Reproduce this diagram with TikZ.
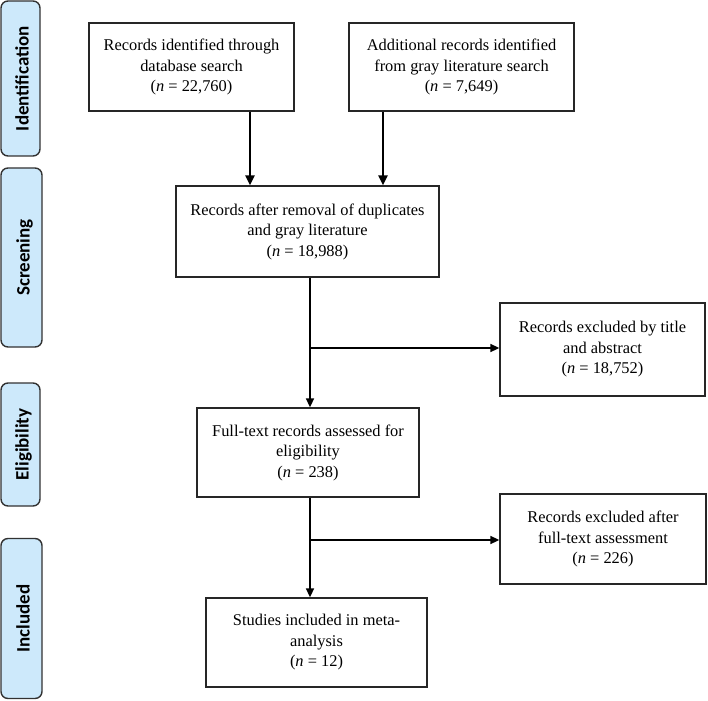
\documentclass[tikz,border=0pt]{standalone}
\usepackage{fontspec}
\setmainfont{Liberation Serif}
\newfontfamily\labfont{Carlito}
\usetikzlibrary{arrows.meta}
\definecolor{stagefill}{RGB}{205,233,251}
\definecolor{stageline}{RGB}{50,50,50}
\tikzset{
  box/.style={draw=black!85, line width=1.3pt, fill=white, align=center, inner sep=2pt,
    font=\fontsize{16.4}{20.5}\selectfont},
  stage/.style={draw=stageline, line width=1.4pt, fill=stagefill, rounded corners=7pt,
    rotate=90, inner sep=0pt, text height=16pt, text depth=0pt,
    font=\labfont\bfseries\fontsize{19}{21}\selectfont},
  arr/.style={line width=1.6pt, -{Triangle[length=9pt,width=8pt]}},
  arrbig/.style={line width=2.2pt, -{Triangle[length=10pt,width=9pt]}}
}
\begin{document}
\begin{tikzpicture}[x=1pt,y=-1pt]
\useasboundingbox (0,0) rectangle (708,700);
% stage labels
\node[stage, minimum width=155pt, minimum height=39pt] (s1) at (20.5,78.5) {Identification};
\node[stage, minimum width=179pt, minimum height=41pt] (s2) at (21.5,257.5) {Screening};
\node[stage, minimum width=123pt, minimum height=39pt] (s3) at (20.5,444.5) {Eligibility};
\node[stage, minimum width=160pt, minimum height=41pt] (s4) at (21.5,618.5) {Included};
% boxes
\node[box, minimum width=205pt, minimum height=88pt] (A) at (191.5,67) {Records identified through\\database search\\(\textit{n} = 22,760)};
\node[box, minimum width=225pt, minimum height=88pt] (B) at (461.5,67) {Additional records identified\\from gray literature search\\(\textit{n} = 7,649)};
\node[box, minimum width=263pt, minimum height=91pt] (C) at (307.5,231.5) {Records after removal of duplicates\\and gray literature\\(\textit{n} = 18,988)};
\node[box, minimum width=205pt, minimum height=93pt] (D) at (602.5,349.5) {Records excluded by title\\and abstract\\(\textit{n} = 18,752)};
\node[box, minimum width=222pt, minimum height=89pt] (E) at (308,452.5) {Full-text records assessed for\\eligibility\\(\textit{n} = 238)};
\node[box, minimum width=206pt, minimum height=90pt] (F) at (603,539) {Records excluded after\\full-text assessment\\(\textit{n} = 226)};
\node[box, minimum width=221pt, minimum height=89pt] (G) at (316.5,642.5) {Studies included in meta-\\analysis\\(\textit{n} = 12)};
% connector coordinates
\coordinate (xa) at (250,0);
\coordinate (xb) at (383,0);
\coordinate (xm) at (310,0);
\coordinate (j1) at (310,348);
\coordinate (j2) at (310,540);
% connectors
\draw[arrbig] (xa |- A.south) -- (xa |- C.north);
\draw[arrbig] (xb |- B.south) -- (xb |- C.north);
\draw[arr] (xm |- C.south) -- (xm |- E.north);
\draw[arr] (j1) -- (j1 -| D.west);
\draw[arr] (xm |- E.south) -- (xm |- G.north);
\draw[arr] (j2) -- (j2 -| F.west);
\end{tikzpicture}
\end{document}
